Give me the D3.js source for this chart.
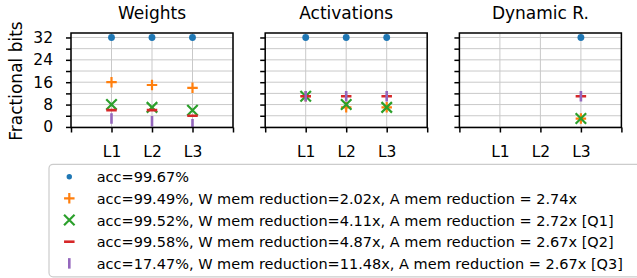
<!DOCTYPE html>
<html><head><meta charset="utf-8">
<script src="https://cdn.jsdelivr.net/npm/d3@7"></script>
<style>body{margin:0;background:#fff}svg{display:block;font-family:"DejaVu Sans",sans-serif}</style>
</head><body>
<script>
const categories = ["L1", "L2", "L3"];
const panelTitles = ["Weights", "Activations", "Dynamic R."];
const yTicks = [0, 4, 8, 12, 16, 20, 24, 28, 32];
const yLabelTicks = [0, 8, 16, 24, 32];
const seriesLabels = [
  "acc=99.67%",
  "acc=99.49%, W mem reduction=2.02x, A mem reduction = 2.74x",
  "acc=99.52%, W mem reduction=4.11x, A mem reduction = 2.72x [Q1]",
  "acc=99.58%, W mem reduction=4.87x, A mem reduction = 2.67x [Q2]",
  "acc=17.47%, W mem reduction=11.48x, A mem reduction = 2.67x [Q3]"
];
const seriesColors = ["#1f77b4", "#ff7f0e", "#2ca02c", "#d62728", "#9467bd"];
const seriesMarkers = ["o", "+", "x", "_", "|"];
// values per panel: [series][category]
const weights = [[32,32,32],[16,15,14],[8,7,6],[6,6,4],[3,2,1]];
const activations = [[32,32,32],[11,7,7],[11,8,7],[11,11,11],[11,11,11]];
const dynamicR = [[null,null,32],[null,null,3],[null,null,3],[null,null,11],[null,null,11]];
const panelData = [weights, activations, dynamicR];

(function () {
const W = 637, H = 278;
const svg = d3.select("body").append("svg").attr("width", W).attr("height", H);
const pTop = 33, pBottom = 127.5, pw = 162;
const lefts = [71, 265.2, 459.4];
const y = d3.scaleLinear().domain([-0.2, 33.6]).range([pBottom, pTop]);

function drawMarker(g, type, color, size) {
  const h = size / 2;
  if (type === "o") {
    g.append("circle").attr("r", size * 0.36).attr("fill", color);
  } else if (type === "+") {
    g.append("path").attr("d", `M${-h},0H${h}M0,${-h}V${h}`).attr("stroke", color).attr("stroke-width", 2.2).attr("fill", "none");
  } else if (type === "x") {
    g.append("path").attr("d", `M${-h},${-h}L${h},${h}M${-h},${h}L${h},${-h}`).attr("stroke", color).attr("stroke-width", 2.2).attr("fill", "none");
  } else if (type === "_") {
    g.append("path").attr("d", `M${-h},0H${h}`).attr("stroke", color).attr("stroke-width", 2.6).attr("fill", "none");
  } else if (type === "|") {
    g.append("path").attr("d", `M0,${-h}V${h}`).attr("stroke", color).attr("stroke-width", 2.6).attr("fill", "none");
  }
}

panelData.forEach((data, pi) => {
  const x0 = lefts[pi];
  const x = d3.scaleLinear().domain([0, 4]).range([x0, x0 + pw]);
  const g = svg.append("g");
  const clipId = "clip" + pi;
  svg.append("clipPath").attr("id", clipId).append("rect")
    .attr("x", x0).attr("y", pTop).attr("width", pw).attr("height", pBottom - pTop);
  const grid = g.append("g").attr("stroke", "#c9c9c9").attr("stroke-width", 1);
  yTicks.forEach(t => grid.append("line").attr("x1", x0).attr("x2", x0 + pw).attr("y1", y(t)).attr("y2", y(t)));
  [0,1,2,3,4].forEach(t => grid.append("line").attr("x1", x(t)).attr("x2", x(t)).attr("y1", pTop).attr("y2", pBottom));
  const mg = g.append("g").attr("clip-path", `url(#${clipId})`);
  data.forEach((vals, si) => {
    vals.forEach((v, ci) => {
      if (v === null) return;
      const m = mg.append("g").attr("transform", `translate(${x(ci + 1)},${y(v)})`);
      drawMarker(m, seriesMarkers[si], seriesColors[si], si === 0 ? 9.5 : 10.5);
    });
  });
  g.append("rect").attr("x", x0).attr("y", pTop).attr("width", pw).attr("height", pBottom - pTop)
    .attr("fill", "none").attr("stroke", "#000").attr("stroke-width", 1.5);
  const ya = d3.axisLeft(y).tickValues(yTicks).tickSize(5).tickPadding(13)
    .tickFormat(d => (pi === 0 && yLabelTicks.includes(d)) ? d : "");
  const yg = g.append("g").attr("transform", `translate(${x0},0)`).call(ya);
  const xa = d3.axisBottom(x).tickValues([0,1,2,3,4]).tickSize(5).tickPadding(13.5)
    .tickFormat(d => categories[d - 1] || "");
  const xg = g.append("g").attr("transform", `translate(0,${pBottom})`).call(xa);
  [yg, xg].forEach(a => {
    a.select(".domain").remove();
    a.selectAll(".tick line").attr("stroke", "#000").attr("stroke-width", 1.5);
    a.selectAll("text").attr("font-size", 15.5).attr("fill", "#000").attr("font-family", "DejaVu Sans");
  });
  svg.append("text").attr("x", x0 + pw / 2).attr("y", 19.3).attr("text-anchor", "middle")
    .attr("font-size", 17).text(panelTitles[pi]);
});

svg.append("text").attr("transform", "translate(22,81) rotate(-90)").attr("text-anchor", "middle")
  .attr("font-size", 17).text("Fractional bits");

const lg = svg.append("g");
lg.append("rect").attr("x", 49).attr("y", 164.3).attr("width", 600).attr("height", 112.5)
  .attr("rx", 4).attr("fill", "#fff").attr("stroke", "#cccccc").attr("stroke-width", 1.2);
seriesLabels.forEach((lab, i) => {
  const ry = 176.7 + i * 21.67;
  const m = lg.append("g").attr("transform", `translate(69.3,${ry})`);
  drawMarker(m, seriesMarkers[i], seriesColors[i], i === 0 ? 7.5 : 10.5);
  lg.append("text").attr("x", 96.7).attr("y", ry + 5.6).attr("font-size", 14.5).text(lab);
});
})();
</script>
</body></html>
